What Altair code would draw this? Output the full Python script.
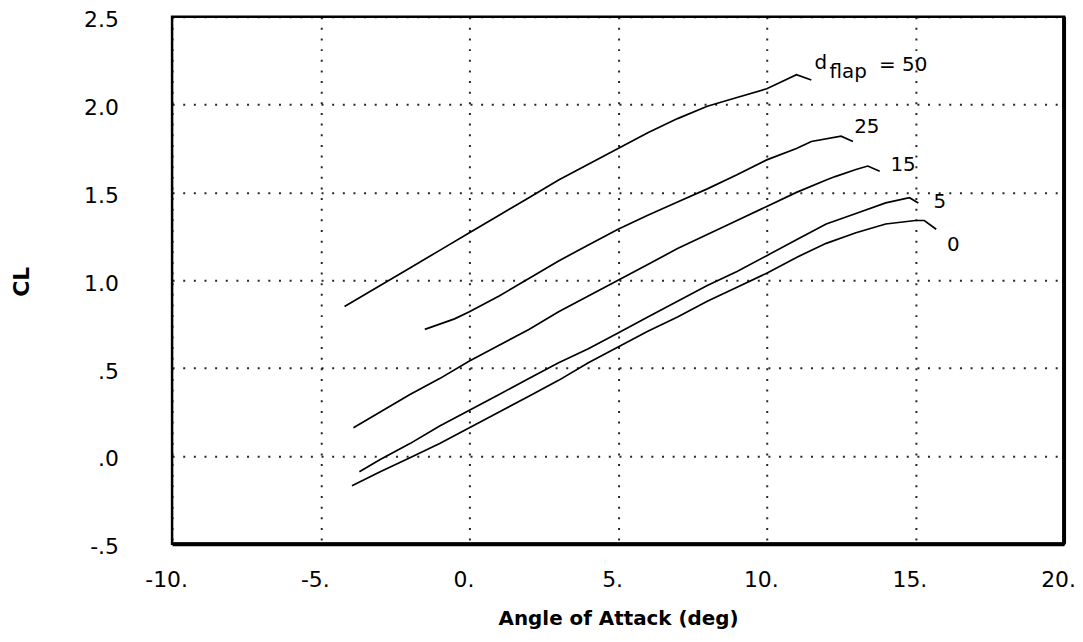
import altair as alt
import pandas as pd

# ---- data (angle of attack in deg, CL) ----
flap_0_aoa = [-3.95, -3, -2, -1, 0, 1, 2, 3, 4, 5, 6, 7, 8, 9, 10, 11, 12, 13, 14, 15, 15.3, 15.7]
flap_0_cl = [-0.17, -0.09, -0.01, 0.07, 0.16, 0.25, 0.34, 0.43, 0.53, 0.62, 0.71, 0.79, 0.88, 0.96, 1.04, 1.13, 1.21, 1.27, 1.32, 1.34, 1.34, 1.29]

flap_5_aoa = [-3.7, -3, -2, -1, 0, 1, 2, 3, 4, 5, 6, 7, 8, 9, 10, 11, 12, 13, 14, 14.8, 15.1]
flap_5_cl = [-0.09, -0.02, 0.07, 0.17, 0.26, 0.35, 0.44, 0.53, 0.61, 0.70, 0.79, 0.88, 0.97, 1.05, 1.14, 1.23, 1.32, 1.38, 1.44, 1.47, 1.44]

flap_15_aoa = [-3.9, -3, -2, -1, 0, 1, 2, 3, 4, 5, 6, 7, 8, 9, 10, 11, 12, 12.3, 13, 13.4, 13.8]
flap_15_cl = [0.16, 0.25, 0.35, 0.44, 0.54, 0.63, 0.72, 0.82, 0.91, 1.00, 1.09, 1.18, 1.26, 1.34, 1.42, 1.50, 1.57, 1.59, 1.63, 1.65, 1.62]

flap_25_aoa = [-1.5, -1, -0.5, 0, 1, 2, 3, 4, 5, 6, 7, 8, 9, 10, 11, 11.5, 12.5, 12.9]
flap_25_cl = [0.72, 0.75, 0.78, 0.82, 0.91, 1.01, 1.11, 1.20, 1.29, 1.37, 1.445, 1.52, 1.60, 1.685, 1.75, 1.79, 1.82, 1.79]

flap_50_aoa = [-4.2, -3, -2, -1, 0, 1, 2, 3, 4, 5, 6, 7, 8, 9, 10, 10.5, 11, 11.5]
flap_50_cl = [0.85, 0.97, 1.07, 1.17, 1.27, 1.37, 1.47, 1.57, 1.66, 1.75, 1.84, 1.92, 1.99, 2.04, 2.09, 2.13, 2.17, 2.14]

series_names = ["0", "5", "15", "25", "50"]

label_text = ["d", "flap", "= 50", "25", "15", "5", "0"]
label_x = [11.61, 12.11, 13.78, 12.94, 14.16, 15.61, 16.06]
label_y = [2.20, 2.149, 2.189, 1.838, 1.623, 1.413, 1.164]

x_ticks = [-10, -5, 0, 5, 10, 15, 20]
y_ticks = [-0.5, 0, 0.5, 1.0, 1.5, 2.0, 2.5]

# ---- build tables ----
rows = []
for name, xs, ys in zip(
    series_names,
    [flap_0_aoa, flap_5_aoa, flap_15_aoa, flap_25_aoa, flap_50_aoa],
    [flap_0_cl, flap_5_cl, flap_15_cl, flap_25_cl, flap_50_cl],
):
    for a, c in zip(xs, ys):
        rows.append({"flap": name, "aoa": a, "cl": c})
df = pd.DataFrame(rows)
labels = pd.DataFrame({"text": label_text, "x": label_x, "y": label_y})

FONT = "DejaVu Sans"

xscale = alt.Scale(domain=[-10, 20], nice=False, zero=False)
yscale = alt.Scale(domain=[-0.5, 2.5], nice=False, zero=False)

xaxis = alt.Axis(
    values=x_ticks,
    labelExpr="datum.value + '.'",
    title="Angle of Attack (deg)",
    grid=True,
    ticks=False,
    tickSize=0,
    domain=True,
    domainColor="black",
    domainWidth=4,
    labelFont=FONT,
    labelFontSize=22,
    labelColor="black",
    labelPadding=26,
    labelBaseline="top",
    labelOffset=-6,
    labelFlush=False,
    titleFont=FONT,
    titleFontSize=20,
    titleFontWeight="bold",
    titleColor="black",
    titleBaseline="middle",
    titleY=75,
)
yaxis = alt.Axis(
    values=y_ticks,
    labelExpr="datum.value == 0.5 ? '.5' : datum.value == 0 ? '.0' : datum.value == -0.5 ? '-.5' : format(datum.value, '.1f')",
    title="CL",
    grid=True,
    ticks=False,
    tickSize=0,
    domain=False,
    labelFont=FONT,
    labelFontSize=22,
    labelColor="black",
    labelPadding=54,
    labelBaseline="middle",
    labelOffset=3,
    labelFlush=False,
    titleFont=FONT,
    titleFontSize=22,
    titleFontWeight="bold",
    titleColor="black",
    titleAngle=270,
    titleBaseline="middle",
    titleX=-151,
    titleY=266,
)

lines = alt.Chart(df).mark_line(color="black", strokeWidth=1.7).encode(
    x=alt.X("aoa:Q", scale=xscale, axis=xaxis),
    y=alt.Y("cl:Q", scale=yscale, axis=yaxis),
    detail="flap:N",
    order="aoa:Q",
)

text = alt.Chart(labels).mark_text(
    align="left", baseline="alphabetic", font=FONT, fontSize=20, color="black"
).encode(x="x:Q", y="y:Q", text="text:N")

right_edge = alt.Chart(pd.DataFrame({"x": [x_ticks[-1]]})).mark_rule(
    color="black", strokeWidth=4
).encode(x="x:Q")

chart = (
    alt.layer(lines, text, right_edge)
    .properties(
        width=897,
        height=530,
        autosize=alt.AutoSizeParams(type="none"),
        padding={"left": 165, "top": 7, "right": 11, "bottom": 88},
        background="white",
    )
    .configure_view(stroke="black", strokeWidth=2.5)
    .configure_axis(gridColor="black", gridDash=[2, 8.7], gridWidth=2, gridOpacity=0.85)
)

chart.save("out.html", embed_options={"renderer": "svg", "actions": False})
